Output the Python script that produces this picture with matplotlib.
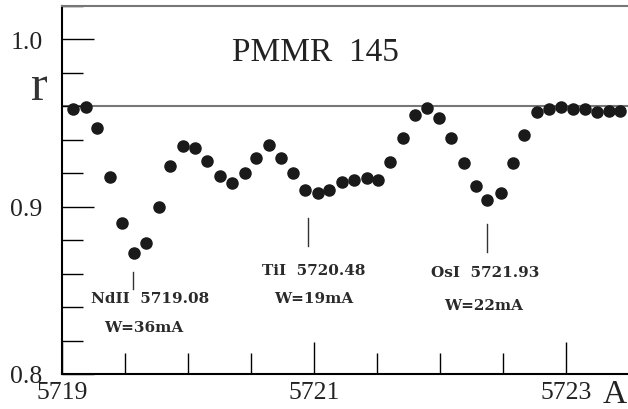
import matplotlib
matplotlib.use('Agg')
import matplotlib.pyplot as plt
import numpy as np

# wavelength (A) and residual intensity
wave = np.array([5719.090, 5719.190, 5719.280, 5719.381, 5719.479, 5719.571,
                 5719.669, 5719.770, 5719.860, 5719.963, 5720.058, 5720.148,
                 5720.254, 5720.351, 5720.452, 5720.540, 5720.640, 5720.741,
                 5720.831, 5720.931, 5721.029, 5721.119, 5721.222, 5721.317,
                 5721.418, 5721.506, 5721.606, 5721.708, 5721.802, 5721.899,
                 5721.995, 5722.087, 5722.190, 5722.286, 5722.376, 5722.482,
                 5722.577, 5722.667, 5722.772, 5722.863, 5722.958, 5723.053,
                 5723.148, 5723.248, 5723.339, 5723.429])
flux = np.array([0.9582, 0.9596, 0.9470, 0.9178, 0.8900, 0.8721,
                 0.8780, 0.8999, 0.9240, 0.9361, 0.9351, 0.9269,
                 0.9180, 0.9140, 0.9198, 0.9290, 0.9369, 0.9290,
                 0.9198, 0.9099, 0.9079, 0.9099, 0.9148, 0.9158,
                 0.9168, 0.9158, 0.9268, 0.9409, 0.9548, 0.9588,
                 0.9528, 0.9409, 0.9258, 0.9121, 0.9039, 0.9081,
                 0.9258, 0.9429, 0.9562, 0.9584, 0.9596, 0.9584,
                 0.9584, 0.9562, 0.9569, 0.9569])
continuum = 0.96

# line identifications: marker x, marker y range, label, width label
line_x = [5719.566, 5720.952, 5722.375]
line_y0 = [0.8507, 0.8764, 0.8730]
line_y1 = [0.8607, 0.8931, 0.8896]
line_names = ['NdII  5719.08', 'TiI  5720.48', 'OsI  5721.93']
name_pos = [(5719.702, 0.8454), (5720.996, 0.8621), (5722.357, 0.8609)]
line_widths = ['W=36mA', 'W=19mA', 'W=22mA']
width_pos = [(5719.651, 0.8281), (5720.996, 0.8454), (5722.345, 0.8412)]

xticks = [5719, 5721, 5723]
xlabels = ['5719', '5721', '5723']
yticks = [0.8, 0.9, 1.0]
ylabels = ['0.8', '0.9', '1.0']

fig = plt.figure(figsize=(6.28, 4.10), dpi=100)
ax = fig.add_axes([62/628, 35/410, 567/628, 368.5/410])

ax.axhline(continuum, color='#777777', lw=1.5, zorder=1)
ax.plot(wave, flux, 'o', color='#1a1a1a', ms=8, zorder=3, clip_on=False)

for i in range(len(line_x)):
    ax.plot([line_x[i], line_x[i]], [line_y0[i], line_y1[i]], color='#333333', lw=1)
    ax.text(name_pos[i][0], name_pos[i][1], line_names[i], ha='center', va='center',
            family='DejaVu Serif', fontsize=11, fontweight='bold', color='#2a2a2a')
    ax.text(width_pos[i][0], width_pos[i][1], line_widths[i], ha='center', va='center',
            family='DejaVu Serif', fontsize=11, fontweight='bold', color='#2a2a2a')

ax.text(5721.012, 0.9922, 'PMMR  145', ha='center', va='center',
        family='Liberation Serif', fontsize=24, color='#222222')
ax.text(5718.817, 0.9642, 'r', ha='center', va='baseline', clip_on=False,
        family='Liberation Serif', fontsize=36, color='#333333')
fig.text(615/628, 7/410, 'A', ha='center', va='baseline',
         family='Liberation Serif', fontsize=24, color='#222222')

ax.set_xlim(5719, 5723.5)
ax.set_ylim(0.8, 1.02)
ax.set_xticks(xticks)
ax.set_xticklabels(xlabels)
ax.set_xticks(np.arange(5719, 5723.5, 0.5), minor=True)
ax.set_yticks(yticks)
ax.set_yticklabels(ylabels)
ax.set_yticks(np.arange(0.8, 1.021, 0.02), minor=True)

ax.tick_params(which='both', direction='in', width=1, color='black',
               top=False, right=False)
ax.tick_params(which='major', length=23)
ax.tick_params(which='minor', length=15)
ax.tick_params(axis='y', which='major', pad=14)
ax.tick_params(axis='x', which='major', pad=5)
for lab in ax.get_xticklabels() + ax.get_yticklabels():
    lab.set_family('Liberation Serif')
    lab.set_fontsize(18.5)
    lab.set_color('#222222')

ax.spines['right'].set_visible(False)
ax.spines['top'].set_color('#777777')
ax.spines['top'].set_linewidth(1.5)
ax.spines['left'].set_linewidth(1.5)
ax.spines['bottom'].set_linewidth(1.5)

fig.savefig('out.png', dpi=100)
